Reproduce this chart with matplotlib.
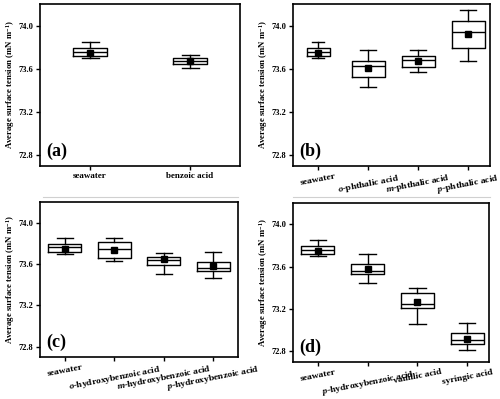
import matplotlib
matplotlib.use('Agg')
import matplotlib.pyplot as plt
from matplotlib.lines import Line2D

plt.rcParams['font.family'] = 'Liberation Serif'
plt.rcParams['font.weight'] = 'bold'
plt.rcParams['mathtext.fontset'] = 'custom'
plt.rcParams['mathtext.rm'] = 'Liberation Serif:bold'
plt.rcParams['mathtext.it'] = 'Liberation Serif:italic:bold'
plt.rcParams['mathtext.bf'] = 'Liberation Serif:bold'

# box stats: (whislo, q1, med, q3, whishi, mean)
seawater = (73.70, 73.72, 73.76, 73.79, 73.85, 73.75)

labels_a = ["seawater", "benzoic acid"]
stats_a = [seawater, (73.61, 73.64, 73.67, 73.70, 73.73, 73.675)]

labels_b = ["seawater", r"$\it{o}$-phthalic acid", r"$\it{m}$-phthalic acid", r"$\it{p}$-phthalic acid"]
stats_b = [seawater,
           (73.43, 73.52, 73.63, 73.67, 73.775, 73.61),
           (73.57, 73.62, 73.68, 73.72, 73.775, 73.67),
           (73.67, 73.79, 73.94, 74.04, 74.14, 73.92)]

labels_c = ["seawater", r"$\it{o}$-hydroxybenzoic acid", r"$\it{m}$-hydroxybenzoic acid", r"$\it{p}$-hydroxybenzoic acid"]
stats_c = [seawater,
           (73.63, 73.66, 73.75, 73.81, 73.85, 73.74),
           (73.50, 73.59, 73.64, 73.67, 73.71, 73.645),
           (73.46, 73.53, 73.56, 73.62, 73.72, 73.585)]

labels_d = ["seawater", r"$\it{p}$-hydroxybenzoic acid", "vanillic acid", "syringic acid"]
stats_d = [seawater,
           (73.45, 73.53, 73.56, 73.62, 73.716, 73.58),
           (73.06, 73.21, 73.25, 73.35, 73.40, 73.27),
           (72.81, 72.87, 72.91, 72.97, 73.066, 72.92)]

yticks = [72.8, 73.2, 73.6, 74.0]

W, H = 500, 399
fig = plt.figure(figsize=(5.0, 3.99), dpi=100)


def make_ax(l, r, t, b):
    return fig.add_axes([l / W, 1 - b / H, (r - l) / W, (b - t) / H])


def draw(ax, stats, labels, widths, letter, rot, xlim, left_px, right_px, xfs):
    bx = []
    for s, lab in zip(stats, labels):
        bx.append(dict(whislo=s[0], q1=s[1], med=s[2], q3=s[3], whishi=s[4], mean=s[5], label=lab, fliers=[]))
    pos = list(range(1, len(stats) + 1))
    ax.bxp(bx, positions=pos, widths=widths, showmeans=True, showfliers=False,
           boxprops=dict(color='k', lw=1), medianprops=dict(color='k', lw=1),
           whiskerprops=dict(color='k', lw=1), capprops=dict(color='k', lw=1),
           meanprops=dict(marker='s', markerfacecolor='k', markeredgecolor='k', markersize=3.8),
           capwidths=[w * 0.5 for w in widths])
    ax.set_xlim(*xlim)
    ax.set_ylim(72.7, 74.2)
    ax.set_yticks(yticks)
    ax.set_yticklabels(["%.1f" % v for v in yticks], fontsize=6, fontweight='bold')
    ax.set_xticks(pos)
    ax.set_xticklabels(labels, fontsize=xfs, fontweight='bold', rotation=rot, ha='center')
    ax.tick_params(direction='out', length=3, width=1, top=False, right=False, pad=2)
    ax.tick_params(axis='x', pad=1.5)
    for sp in ax.spines.values():
        sp.set_linewidth(1.2)
    ax.set_ylabel(r"Average surface tension (mN m$^{-1}$)", fontsize=6.3, fontweight='bold')
    ax.yaxis.set_label_coords((17 - left_px) / (right_px - left_px), 0.5)
    ax.text(0.03, 0.04, letter, transform=ax.transAxes, fontsize=13, fontweight='bold', va='bottom', ha='left')


ax_a = make_ax(40, 240, 4, 166)
draw(ax_a, stats_a, labels_a, [0.34, 0.34], "(a)", 0, (0.5, 2.5), 40, 240, 6.5)

ax_b = make_ax(293, 490, 4, 166)
draw(ax_b, stats_b, labels_b, [0.46, 0.66, 0.66, 0.66], "(b)", 11, (0.5, 4.44), 293 - 253, 490 - 253, 6.8)

ax_c = make_ax(40, 238, 202, 357)
draw(ax_c, stats_c, labels_c, [0.66] * 4, "(c)", 11, (0.5, 4.5), 40, 238, 6.8)

ax_d = make_ax(293, 489, 203, 362)
draw(ax_d, stats_d, labels_d, [0.66] * 4, "(d)", 11, (0.5, 4.44), 293 - 253, 489 - 253, 6.8)

# faint separator lines under the top row
fig.add_artist(Line2D([43 / W, 238 / W], [1 - 197 / H] * 2, color='#d0d0d0', lw=0.8))
fig.add_artist(Line2D([293 / W, 490 / W], [1 - 197 / H] * 2, color='#d0d0d0', lw=0.8))

fig.savefig("out.png", dpi=100)
